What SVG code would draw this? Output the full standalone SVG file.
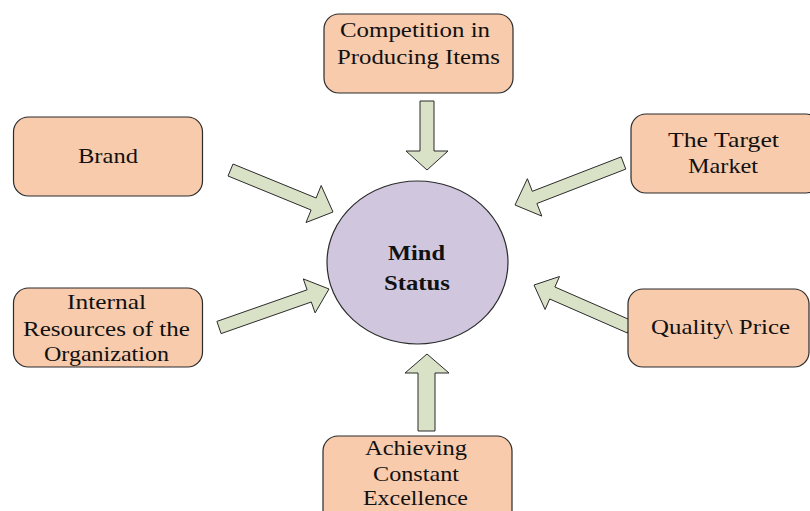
<svg xmlns="http://www.w3.org/2000/svg" width="810" height="511" viewBox="0 0 810 511">
<style>
.box{fill:#F8CBAD;stroke:#2b2b2b;stroke-width:1.2}
.arr{fill:#D9E2C6;stroke:#2b2b2b;stroke-width:1}
.t{font-family:"Liberation Serif","Times New Roman",serif;font-size:21px;fill:#111;text-anchor:middle}
.b{font-weight:bold}
</style>
<rect width="810" height="511" fill="#fff"/>
<g id="connectors">
<polygon class="arr" points="420,101 434,101 434,151 448,151 427,170 406,151 420,151"/>
<polygon class="arr" points="418,431 435,431 435,373 449,373 427,354 405,373 418,373"/>
<polygon class="arr" points="228.0,176.0 233.0,164.0 316.1,198.0 321.2,185.5 333,212 306.0,222.5 311.1,210.0"/>
<polygon class="arr" points="621.2,156.9 532.3,191.3 527.4,178.7 515,205 541.8,216.1 536.9,203.5 625.8,169.1"/>
<polygon class="arr" points="216.9,321.4 307.1,289.8 303.3,278.9 329,289 315.1,312.9 311.3,302.0 221.1,333.6"/>
<polygon class="arr" points="632.6,321.0 554.9,287.0 559.5,276.5 534,285 545.1,309.5 549.7,299.0 627.4,333.0"/>
</g>
<g id="mind">
<ellipse cx="417.5" cy="262.5" rx="90.5" ry="81.5" fill="#D0C7DF" stroke="#2b2b2b" stroke-width="1.2"/>
<text class="t b" x="416.5" y="260" textLength="57" lengthAdjust="spacingAndGlyphs">Mind</text>
<text class="t b" x="417" y="290" textLength="66" lengthAdjust="spacingAndGlyphs">Status</text>
</g>
<g id="competition">
<rect class="box" x="324" y="14" width="189" height="79" rx="15"/>
<text class="t" x="415" y="37" textLength="150" lengthAdjust="spacingAndGlyphs">Competition in</text>
<text class="t" x="418.5" y="64" textLength="163" lengthAdjust="spacingAndGlyphs">Producing Items</text>
</g>
<g id="brand">
<rect class="box" x="13.5" y="117" width="189" height="79" rx="15"/>
<text class="t" x="108" y="163" textLength="60" lengthAdjust="spacingAndGlyphs">Brand</text>
</g>
<g id="target">
<rect class="box" x="631" y="114" width="190" height="79" rx="15"/>
<text class="t" x="723.5" y="147" textLength="111" lengthAdjust="spacingAndGlyphs">The Target</text>
<text class="t" x="723" y="173" textLength="70" lengthAdjust="spacingAndGlyphs">Market</text>
</g>
<g id="internal">
<rect class="box" x="13.5" y="288" width="189" height="79" rx="15"/>
<text class="t" x="106.5" y="309" textLength="79" lengthAdjust="spacingAndGlyphs">Internal</text>
<text class="t" x="106.5" y="336" textLength="167" lengthAdjust="spacingAndGlyphs">Resources of the</text>
<text class="t" x="106.5" y="361" textLength="125" lengthAdjust="spacingAndGlyphs">Organization</text>
</g>
<g id="quality">
<rect class="box" x="628" y="289" width="181" height="78" rx="15"/>
<text class="t" x="720.5" y="334" textLength="139" lengthAdjust="spacingAndGlyphs">Quality\ Price</text>
</g>
<g id="achieving">
<rect class="box" x="323" y="436" width="189" height="90" rx="15"/>
<text class="t" x="416" y="455" textLength="102" lengthAdjust="spacingAndGlyphs">Achieving</text>
<text class="t" x="416" y="481" textLength="86" lengthAdjust="spacingAndGlyphs">Constant</text>
<text class="t" x="415.5" y="505" textLength="105" lengthAdjust="spacingAndGlyphs">Excellence</text>
</g>
</svg>
